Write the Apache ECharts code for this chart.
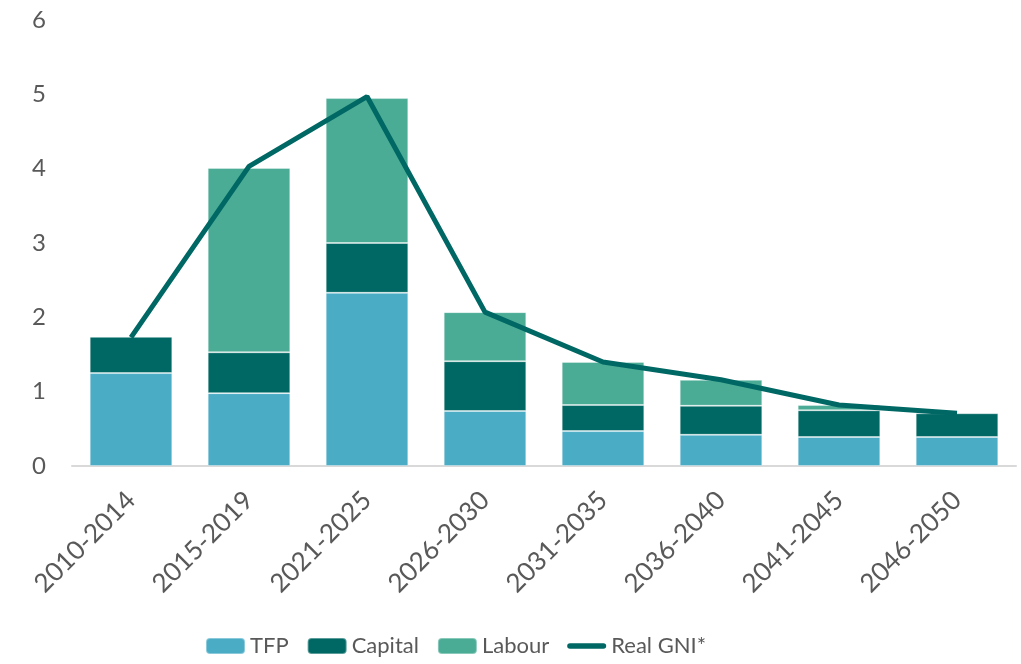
<!DOCTYPE html>
<html>
<head>
<meta charset="utf-8">
<script src="https://cdn.jsdelivr.net/npm/echarts@6/dist/echarts.min.js"></script>
<style>html,body{margin:0;padding:0;background:#fff;}#c{width:1021px;height:664px;}</style>
</head>
<body>
<div id="c"></div>
<script>
const categories = ['2010-2014','2015-2019','2021-2025','2026-2030','2031-2035','2036-2040','2041-2045','2046-2050'];
const tfp = [1.25, 0.98, 2.33, 0.74, 0.47, 0.42, 0.39, 0.39];
const capital = [0.49, 0.55, 0.67, 0.67, 0.35, 0.39, 0.36, 0.32];
const labour = [0, 2.48, 1.95, 0.66, 0.58, 0.35, 0.07, -0.04];
const gni = [1.73, 4.03, 4.97, 2.07, 1.40, 1.16, 0.82, 0.71];

const font = 'Lato, "Open Sans", sans-serif';
const txt = '#595959';
const chart = echarts.init(document.getElementById('c'));
const barBorder = {borderColor: 'rgba(255,255,255,0.35)', borderWidth: 1};
chart.setOption({
  animation: false,
  grid: {left: 72, right: 5, top: 20, bottom: 198, containLabel: false},
  legend: {
    bottom: 2, left: 200, itemGap: 18, itemWidth: 39, itemHeight: 16,
    textStyle: {color: txt, fontSize: 22, fontFamily: font},
    data: [
      {name: 'TFP'}, {name: 'Capital'}, {name: 'Labour'},
      {name: 'Real GNI*', icon: 'path://M3,0 H39 A3,3 0 0 1 39,6 H3 A3,3 0 0 1 3,0 Z', itemStyle: {color: '#006864'}}
    ]
  },
  xAxis: {
    type: 'category', data: categories,
    axisLine: {lineStyle: {color: '#d9d9d9', width: 2}},
    axisTick: {show: false},
    axisLabel: {rotate: 45, color: txt, fontSize: 26, fontFamily: font, margin: 30, interval: 0}
  },
  yAxis: {
    type: 'value', min: 0, max: 6, interval: 1,
    splitLine: {show: false}, axisLine: {show: false}, axisTick: {show: false},
    axisLabel: {color: txt, fontSize: 24, fontFamily: font, margin: 26}
  },
  series: [
    {name: 'TFP', type: 'bar', stack: 's', data: tfp, barWidth: '70%', itemStyle: Object.assign({color: '#4BACC6'}, barBorder)},
    {name: 'Capital', type: 'bar', stack: 's', data: capital, itemStyle: Object.assign({color: '#006864'}, barBorder)},
    {name: 'Labour', type: 'bar', stack: 's', data: labour, itemStyle: Object.assign({color: '#4BAC96'}, barBorder)},
    {name: 'Real GNI*', type: 'line', data: gni, symbol: 'none', lineStyle: {color: '#006864', width: 5}, itemStyle: {color: '#006864'}, z: 5}
  ]
});
</script>
</body>
</html>
